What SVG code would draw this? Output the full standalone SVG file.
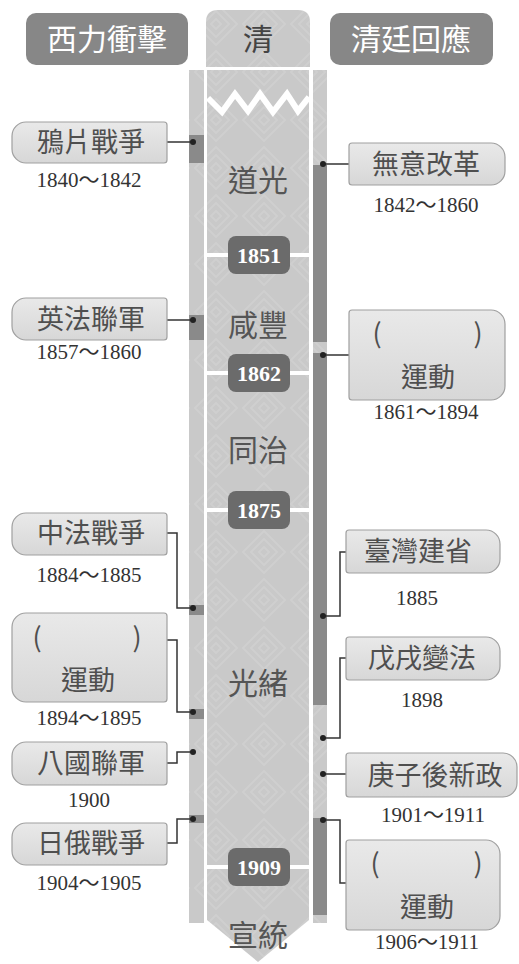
<svg xmlns="http://www.w3.org/2000/svg" width="519" height="964" viewBox="0 0 519 964">
<defs>
<pattern id="sw" width="48" height="48" patternUnits="userSpaceOnUse">
<rect width="48" height="48" fill="#c9c9c9"/>
<path d="M24 3 L45 24 L24 45 L3 24 Z M24 11 L37 24 L24 37 L11 24 Z M24 19 L29 24 L24 29 L19 24 Z" fill="none" stroke="#cfcfcf" stroke-width="2"/>
</pattern>
<linearGradient id="evg" x1="0" y1="0" x2="0" y2="1">
<stop offset="0" stop-color="#e9e9e9"/>
<stop offset="1" stop-color="#d7d7d7"/>
</linearGradient>
<style>
.hdr{fill:#878787}
.hdrt{fill:#fff;font-family:"Noto Sans CJK TC","Noto Sans CJK SC",sans-serif;font-size:30px;text-anchor:middle}
.ev{fill:url(#evg);stroke:#a0a0a0;stroke-width:1.2}
.evt{fill:#4f4f4f;font-family:"Noto Sans CJK TC","Noto Sans CJK SC",sans-serif;font-size:27px;text-anchor:middle}
.yr{fill:#333;font-family:"Liberation Serif","Noto Sans CJK TC",serif;font-size:21px;text-anchor:middle}
.reign{fill:#555;font-family:"Noto Sans CJK TC","Noto Sans CJK SC",sans-serif;font-size:30px;text-anchor:middle}
.badge{fill:#6b6b6b}
.badget{fill:#fff;font-family:"Liberation Serif",serif;font-size:22px;font-weight:bold;text-anchor:middle}
.con{stroke:#333;stroke-width:1.5;fill:none}
.dot{fill:#222}
.dk{fill:#8a8a8a}
.wl{stroke:#fff;stroke-width:4}
</style>
</defs>
<rect width="519" height="964" fill="#fff"/>

<g id="header-west">
<rect class="hdr" x="26" y="13" width="162" height="52" rx="10"/>
<text class="hdrt" x="107" y="50">西力衝擊</text>
</g>
<g id="header-qing">
<path d="M206,67 V22 Q206,10 218,10 H298 Q310,10 310,22 V67 Z" fill="url(#sw)"/>
<text class="hdrt" x="258" y="50" style="fill:#444">清</text>
</g>
<g id="header-court">
<rect class="hdr" x="330" y="13" width="163" height="52" rx="10"/>
<text class="hdrt" x="411" y="50">清廷回應</text>
</g>

<g id="timeline">
<rect x="189" y="70" width="15" height="853" fill="url(#sw)"/>
<rect x="313" y="70" width="14" height="853" fill="url(#sw)"/>
<polygon points="207,70 309,70 309,920 258,962 207,920" fill="url(#sw)"/>
<polyline points="208,98 222,112 235,94 248,111 260,94 273,112 287,94 298,111 309,97" fill="none" stroke="#fff" stroke-width="6" stroke-linejoin="miter"/>
<g class="dk">
<rect x="189" y="135" width="15" height="28"/>
<rect x="189" y="315" width="15" height="25"/>
<rect x="189" y="605" width="15" height="10"/>
<rect x="189" y="709" width="15" height="10"/>
<rect x="189" y="815" width="15" height="8"/>
<rect x="313" y="165" width="14" height="177"/>
<rect x="313" y="353" width="14" height="352"/>
<rect x="313" y="818" width="14" height="97"/>
</g>
<line class="wl" x1="207" y1="255" x2="309" y2="255"/>
<line class="wl" x1="207" y1="373" x2="309" y2="373"/>
<line class="wl" x1="207" y1="510" x2="309" y2="510"/>
<line class="wl" x1="207" y1="867" x2="309" y2="867"/>
</g>

<g id="reign-daoguang"><text class="reign" x="258" y="191">道光</text></g>
<g id="reign-xianfeng"><text class="reign" x="258" y="336">咸豐</text></g>
<g id="reign-tongzhi"><text class="reign" x="258" y="461">同治</text></g>
<g id="reign-guangxu"><text class="reign" x="258" y="694">光緒</text></g>
<g id="reign-xuantong"><text class="reign" x="258" y="946">宣統</text></g>

<g id="badge-1851"><rect class="badge" x="228" y="236" width="62" height="38" rx="8"/><text class="badget" x="259" y="263">1851</text></g>
<g id="badge-1862"><rect class="badge" x="228" y="354" width="62" height="38" rx="8"/><text class="badget" x="259" y="381">1862</text></g>
<g id="badge-1875"><rect class="badge" x="228" y="491" width="62" height="38" rx="8"/><text class="badget" x="259" y="518">1875</text></g>
<g id="badge-1909"><rect class="badge" x="228" y="848" width="62" height="38" rx="8"/><text class="badget" x="259" y="875">1909</text></g>

<g id="connectors">
<line class="con" x1="167" y1="142" x2="193" y2="142"/>
<line class="con" x1="167" y1="320" x2="193" y2="320"/>
<polyline class="con" points="167,533 177,533 177,608 193,608"/>
<polyline class="con" points="167,640 177,640 177,712 193,712"/>
<polyline class="con" points="167,763 177,763 177,752 193,752"/>
<polyline class="con" points="167,843 177,843 177,819 193,819"/>
<line class="con" x1="323" y1="164" x2="349" y2="164"/>
<line class="con" x1="323" y1="355" x2="349" y2="355"/>
<polyline class="con" points="346,552 340,552 340,616 323,616"/>
<polyline class="con" points="346,658 340,658 340,738 323,738"/>
<line class="con" x1="323" y1="774" x2="346" y2="774"/>
<polyline class="con" points="323,820 340,820 340,883 346,883"/>
<circle class="dot" cx="193" cy="142" r="3"/>
<circle class="dot" cx="193" cy="320" r="3"/>
<circle class="dot" cx="193" cy="608" r="3"/>
<circle class="dot" cx="193" cy="712" r="3"/>
<circle class="dot" cx="193" cy="752" r="3"/>
<circle class="dot" cx="193" cy="819" r="3"/>
<circle class="dot" cx="323" cy="164" r="3"/>
<circle class="dot" cx="323" cy="355" r="3"/>
<circle class="dot" cx="323" cy="616" r="3"/>
<circle class="dot" cx="323" cy="738" r="3"/>
<circle class="dot" cx="323" cy="774" r="3"/>
<circle class="dot" cx="323" cy="820" r="3"/>
</g>

<g id="ev-opium">
<path class="ev" d="M26,122 H164 Q167,122 167,125 V160 Q167,163 164,163 H26 A14,14 0 0 1 12,149 V136 A14,14 0 0 1 26,122 Z"/>
<text class="evt" x="91" y="152">鴉片戰爭</text>
<text class="yr" x="89" y="187">1840～1842</text>
</g>
<g id="ev-anglofrench">
<path class="ev" d="M26,298 H164 Q167,298 167,301 V337 Q167,340 164,340 H26 A14,14 0 0 1 12,326 V312 A14,14 0 0 1 26,298 Z"/>
<text class="evt" x="91" y="329">英法聯軍</text>
<text class="yr" x="89" y="359">1857～1860</text>
</g>
<g id="ev-sinofrench">
<path class="ev" d="M26,513 H164 Q167,513 167,516 V552 Q167,555 164,555 H26 A14,14 0 0 1 12,541 V527 A14,14 0 0 1 26,513 Z"/>
<text class="evt" x="91" y="543">中法戰爭</text>
<text class="yr" x="89" y="582">1884～1885</text>
</g>
<g id="ev-movement-left">
<path class="ev" d="M26,613 H164 Q167,613 167,616 V699 Q167,702 164,702 H26 A14,14 0 0 1 12,688 V627 A14,14 0 0 1 26,613 Z"/>
<text class="evt" x="37" y="647">(</text>
<text class="evt" x="137" y="647">)</text>
<text class="evt" x="88" y="690">運動</text>
<text class="yr" x="89" y="725">1894～1895</text>
</g>
<g id="ev-eightnations">
<path class="ev" d="M26,742 H164 Q167,742 167,745 V782 Q167,785 164,785 H26 A14,14 0 0 1 12,771 V756 A14,14 0 0 1 26,742 Z"/>
<text class="evt" x="91" y="773">八國聯軍</text>
<text class="yr" x="89" y="807">1900</text>
</g>
<g id="ev-russojapanese">
<path class="ev" d="M26,823 H164 Q167,823 167,826 V862 Q167,865 164,865 H26 A14,14 0 0 1 12,851 V837 A14,14 0 0 1 26,823 Z"/>
<text class="evt" x="91" y="853">日俄戰爭</text>
<text class="yr" x="89" y="890">1904～1905</text>
</g>

<g id="ev-noreform">
<path class="ev" d="M352,143 H491 A14,14 0 0 1 505,157 V171 A14,14 0 0 1 491,185 H352 Q349,185 349,182 V146 Q349,143 352,143 Z"/>
<text class="evt" x="426" y="174">無意改革</text>
<text class="yr" x="426" y="212">1842～1860</text>
</g>
<g id="ev-selfstrength">
<path class="ev" d="M352,310 H491 A14,14 0 0 1 505,324 V386 A14,14 0 0 1 491,400 H352 Q349,400 349,397 V313 Q349,310 352,310 Z"/>
<text class="evt" x="377" y="343">(</text>
<text class="evt" x="478" y="343">)</text>
<text class="evt" x="428" y="387">運動</text>
<text class="yr" x="426" y="419">1861～1894</text>
</g>
<g id="ev-taiwan">
<path class="ev" d="M349,530 H486 A14,14 0 0 1 500,544 V559 A14,14 0 0 1 486,573 H349 Q346,573 346,570 V533 Q346,530 349,530 Z"/>
<text class="evt" x="418" y="561">臺灣建省</text>
<text class="yr" x="417" y="605">1885</text>
</g>
<g id="ev-wuxu">
<path class="ev" d="M349,637 H486 A14,14 0 0 1 500,651 V666 A14,14 0 0 1 486,680 H349 Q346,680 346,677 V640 Q346,637 349,637 Z"/>
<text class="evt" x="422" y="668">戊戌變法</text>
<text class="yr" x="422" y="707">1898</text>
</g>
<g id="ev-newpolicy">
<path class="ev" d="M349,753 H503 A14,14 0 0 1 517,767 V783 A14,14 0 0 1 503,797 H349 Q346,797 346,794 V756 Q346,753 349,753 Z"/>
<text class="evt" x="435" y="785">庚子後新政</text>
<text class="yr" x="433" y="822">1901～1911</text>
</g>
<g id="ev-constitution">
<path class="ev" d="M349,840 H486 A14,14 0 0 1 500,854 V916 A14,14 0 0 1 486,930 H349 Q346,930 346,927 V843 Q346,840 349,840 Z"/>
<text class="evt" x="375" y="873">(</text>
<text class="evt" x="478" y="873">)</text>
<text class="evt" x="427" y="917">運動</text>
<text class="yr" x="427" y="949">1906～1911</text>
</g>
</svg>
